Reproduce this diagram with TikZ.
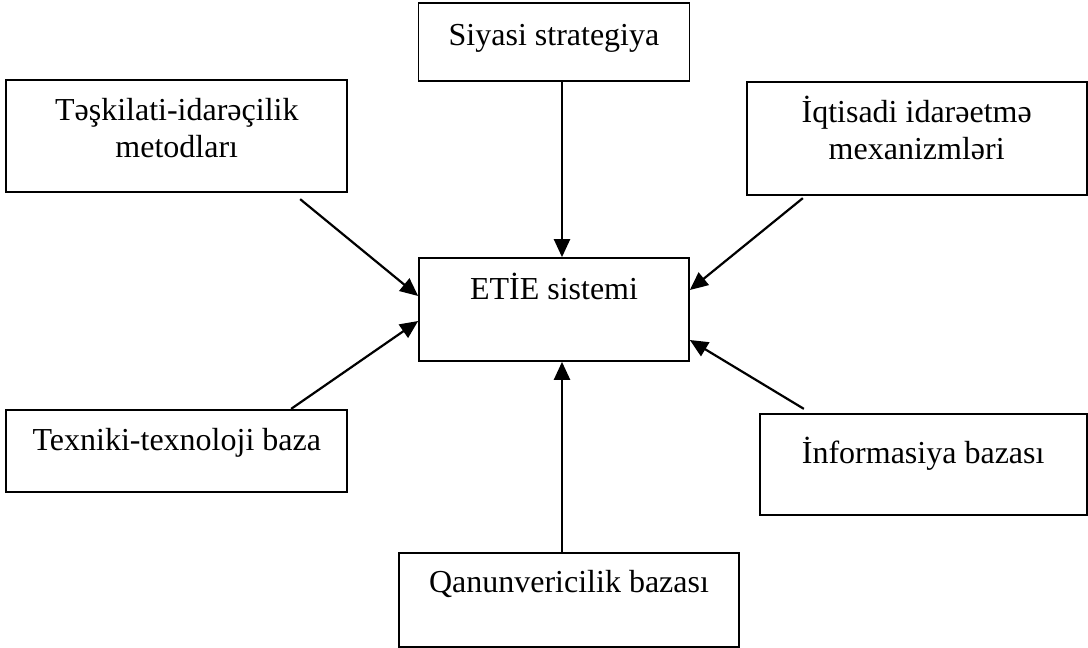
\documentclass[tikz,border=0pt]{standalone}
\usepackage{fontspec}
\setmainfont{Liberation Serif}
\usetikzlibrary{
    positioning,      % For placing nodes relative to each other
    arrows.meta,      % For arrow tips
    calc              % For shifted anchor points
}

\begin{document}
\begin{tikzpicture}[
    % Global style settings
    box_style/.style={
        draw,
        line width=1.7pt,
        inner sep=0pt,
        align=center,
        font=\fontsize{32}{37}\selectfont
    },
    % Style for the arrows pointing to the centre
    arrow_tip/.style={
        line width=2.2pt,
        -{Triangle[length=18pt, width=16pt]}
    }
]
    \useasboundingbox (0,0) rectangle (1088pt,-648pt);

    % 1. The central node.
    \node[box_style, minimum width=270pt, text height=41pt, text depth=62pt] (etie) at (554pt,-309.5pt) {ETİE sistemi};

    % 2. The surrounding nodes (two-line ones: text height counts down to the last line).
    \node[box_style, minimum width=271pt, text height=42pt, text depth=36pt, above=175pt of etie] (siyasi) {Siyasi strategiya};
    \node[box_style, minimum width=341pt, text height=77pt, text depth=35pt, above left=64pt and 70pt of etie] (teskilati) {Təşkilati-idarəçilik\\metodları};
    \node[box_style, minimum width=340pt, text height=77pt, text depth=36pt, above right=61pt and 56pt of etie] (iqtisadi) {İqtisadi idarəetmə\\mexanizmləri};
    \node[box_style, minimum width=341pt, text height=41pt, text depth=41pt, below left=47pt and 70pt of etie] (texniki) {Texniki-texnoloji baza};
    \node[box_style, minimum width=327pt, text height=50pt, text depth=51pt, below right=51pt and 69pt of etie] (informasiya) {İnformasiya bazası};
    \node[box_style, minimum width=340pt, text height=40pt, text depth=54pt, below=190pt of etie, xshift=15pt] (qanun) {Qanunvericilik bazası};

    % 3. Arrows into the central node.
    \draw[arrow_tip] ($(siyasi.south)+(8pt,0)$) -- ($(etie.north)+(8pt,0)$);
    \draw[arrow_tip] ($(qanun.north)+(-7pt,0)$) -- ($(etie.south)+(8pt,0)$);
    \draw[arrow_tip] ($(teskilati.south east)+(-48pt,-6pt)$) -- ($(etie.west)+(0,13.5pt)$);
    \draw[arrow_tip] ($(texniki.north east)+(-57pt,0)$) -- ($(etie.west)+(0,-11.5pt)$);
    \draw[arrow_tip] ($(iqtisadi.south west)+(57pt,-2pt)$) -- ($(etie.east)+(0,19.5pt)$);
    \draw[arrow_tip] ($(informasiya.north west)+(45pt,4pt)$) -- ($(etie.east)+(0,-30.5pt)$);

\end{tikzpicture}
\end{document}
